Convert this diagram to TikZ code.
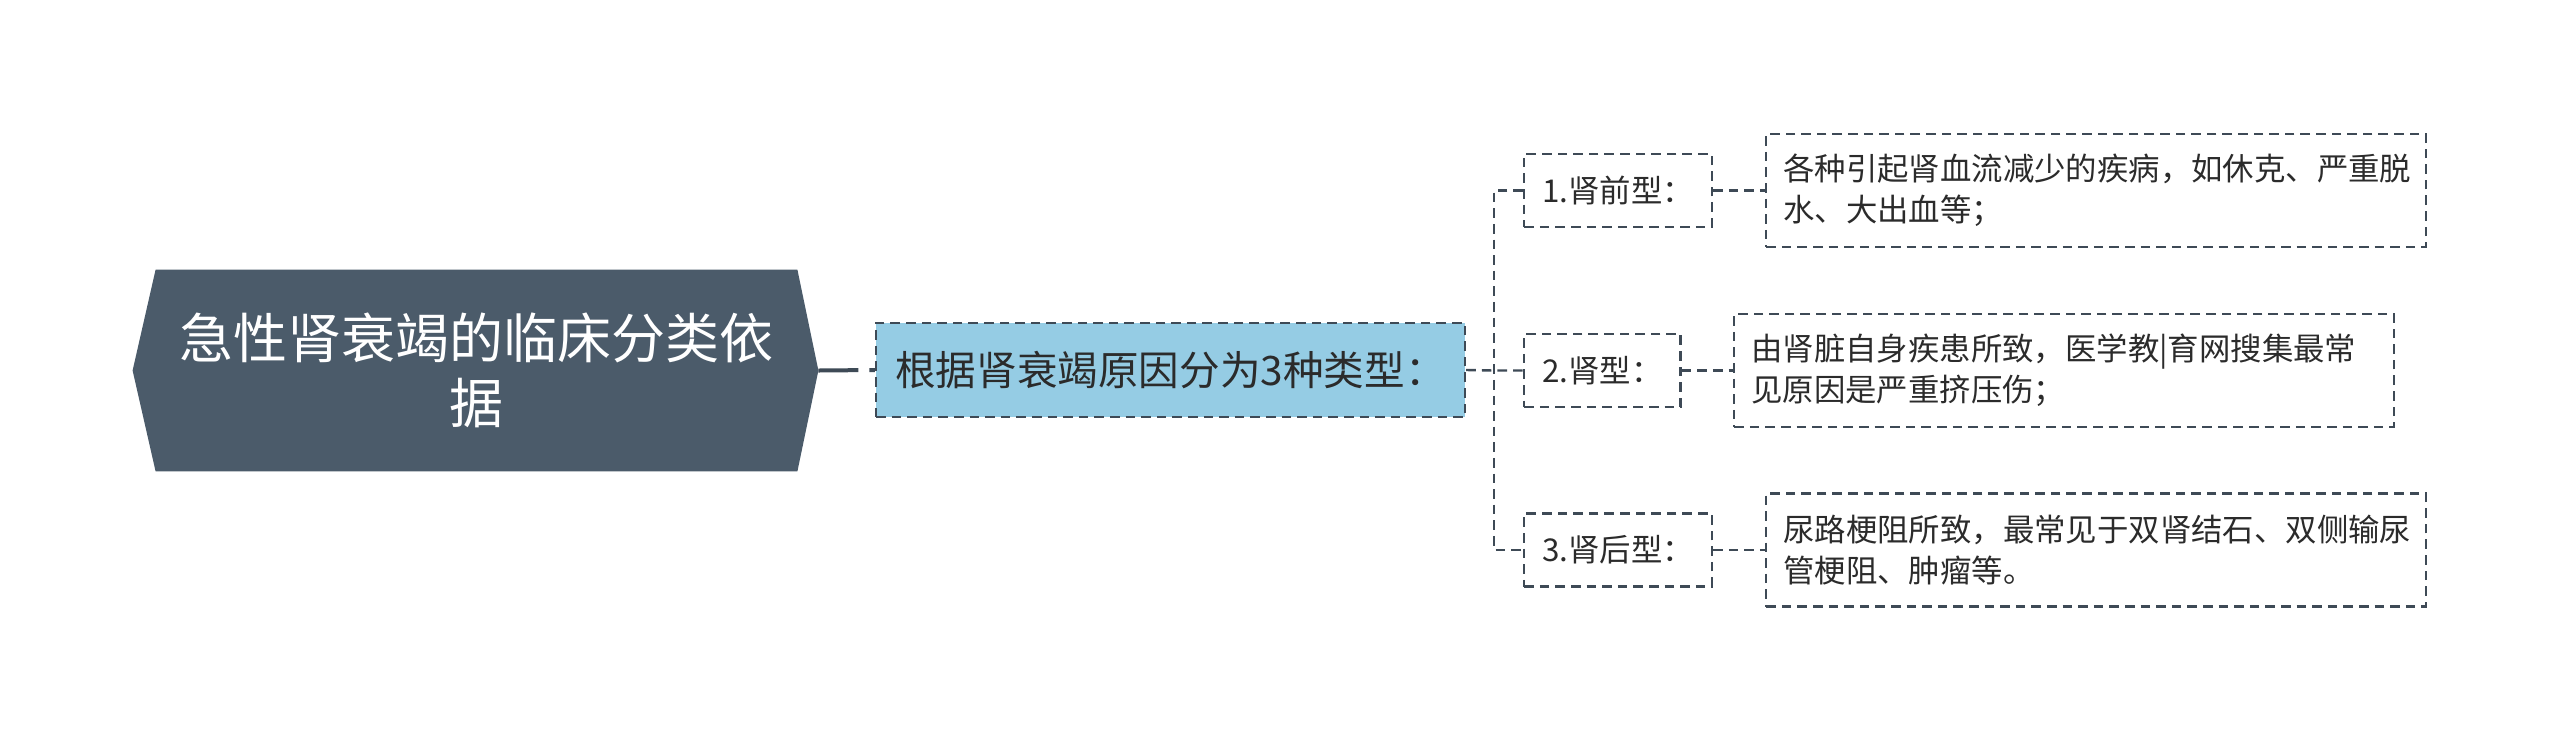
\documentclass[tikz,border=0pt]{standalone}
\usepackage{fontspec}
\setmainfont{Noto Sans CJK SC}
\usetikzlibrary{backgrounds}
\definecolor{rootfill}{HTML}{4B5B6A}
\definecolor{linkgray}{HTML}{3E4A56}
\definecolor{midblue}{HTML}{95CCE4}
\definecolor{leaftext}{HTML}{2B2B2B}

\begin{document}
\begin{tikzpicture}[x=0.5pt,y=-0.5pt,
    rootbox/.style ={inner sep=0pt, minimum width=320.5pt, minimum height=100.5pt,
                     align=center, text=white, font=\fontsize{27pt}{32.5pt}\selectfont},
    dashline/.style={draw=linkgray, line width=1.2pt, dash pattern=on 4.8pt off 3pt},
    midbox/.style  ={dashline, fill=midblue, inner sep=0pt, minimum width=294.5pt,
                     minimum height=47pt, text=leaftext, font=\fontsize{20.3pt}{23pt}\selectfont},
    typebox/.style ={dashline, anchor=west, inner xsep=9pt, inner ysep=0pt,
                     minimum height=36.5pt, text=leaftext, font=\fontsize{15.7pt}{20.5pt}\selectfont},
    leafbox/.style ={dashline, anchor=west, inner xsep=8.5pt, inner ysep=0pt, text width=313pt,
                     align=left, minimum height=56.5pt, text=leaftext,
                     font=\fontsize{15.7pt}{20.5pt}\selectfont}]
   \useasboundingbox (0,0) rectangle (2560,741);

   \node[rootbox] (root) at (476.5,370.5) {急性肾衰竭的临床分类依\\据};
   \coordinate (roottip) at ([xshift=10.5pt]root.east);
   \coordinate (roottail) at ([xshift=-11.5pt]root.west);
   \begin{pgfonlayer}{background}
   \fill[rootfill] (root.north west) -- (root.north east) -- (roottip)
      -- (root.south east) -- (root.south west) -- (roottail) -- cycle;
   \end{pgfonlayer}

   \node[midbox] (mid) at (1170.5,370) {根据肾衰竭原因分为3种类型：};

   \node[typebox] (pre) at (1523,190.5) {1.肾前型：};
   \node[typebox] (ren) at (1523,370.5) {2.肾型：};
   \node[typebox] (post) at (1523,550) {3.肾后型：};

   \node[leafbox] (preleaf) at (1765,190.5) {各种引起肾血流减少的疾病，如休克、严重脱\\水、大出血等；};
   \node[leafbox] (renleaf) at (1733,370.5) {由肾脏自身疾患所致，医学教|育网搜集最常\\见原因是严重挤压伤；};
   \node[leafbox] (postleaf) at (1765,550) {尿路梗阻所致，最常见于双肾结石、双侧输尿\\管梗阻、肿瘤等。};

   \coordinate (fork) at (1494,370.5);

   \draw[draw=linkgray, line width=2pt, dash pattern=on 20pt off 5.5pt on 3.5pt off 0pt] (roottip) -- (mid.west);
   \draw[dashline] (mid.east) -- (fork) -- (ren.west);
   \draw[dashline] (pre.west) -| (fork) |- (post.west);

   \draw[dashline] (pre.east) -- (preleaf.west);
   \draw[dashline] (ren.east) -- (renleaf.west);
   \draw[dashline] (post.east) -- (postleaf.west);

 \end{tikzpicture}
\end{document}
